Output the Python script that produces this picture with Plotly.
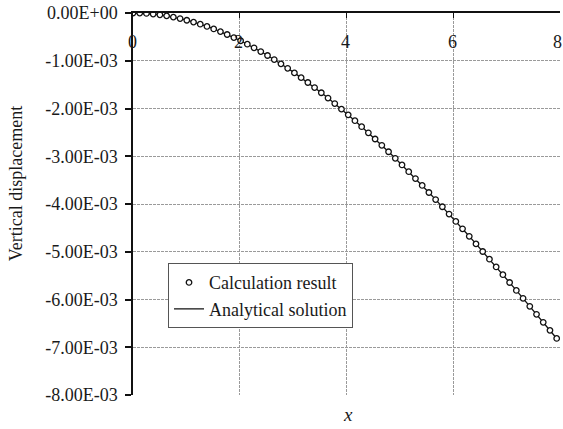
import plotly.graph_objects as go

# ---- data ----
X = [0.000, 0.126, 0.252, 0.378, 0.504, 0.630, 0.756, 0.882, 1.008, 1.134,
     1.260, 1.386, 1.512, 1.638, 1.764, 1.890, 2.016, 2.142, 2.268, 2.394,
     2.520, 2.646, 2.772, 2.898, 3.024, 3.150, 3.276, 3.402, 3.528, 3.654,
     3.780, 3.906, 4.032, 4.158, 4.284, 4.410, 4.536, 4.662, 4.788, 4.914,
     5.040, 5.166, 5.292, 5.418, 5.544, 5.670, 5.796, 5.922, 6.048, 6.174,
     6.300, 6.426, 6.552, 6.678, 6.804, 6.930, 7.056, 7.182, 7.308, 7.434,
     7.560, 7.686, 7.812, 7.938]

CALC = [0.0, -2.4e-6, -9.8e-6, -2.18e-5, -3.86e-5, -6.00e-5, -8.60e-5, -1.165e-4, -1.514e-4, -1.907e-4,
        -2.343e-4, -2.820e-4, -3.340e-4, -3.900e-4, -4.499e-4, -5.139e-4, -5.816e-4, -6.532e-4, -7.285e-4, -8.074e-4,
        -8.899e-4, -9.759e-4, -1.0654e-3, -1.1581e-3, -1.2543e-3, -1.3536e-3, -1.4560e-3, -1.5616e-3, -1.6701e-3, -1.7816e-3,
        -1.8961e-3, -2.0131e-3, -2.1331e-3, -2.2557e-3, -2.3807e-3, -2.5084e-3, -2.6386e-3, -2.7709e-3, -2.9057e-3, -3.0428e-3,
        -3.1818e-3, -3.3231e-3, -3.4665e-3, -3.6115e-3, -3.7587e-3, -3.9077e-3, -4.0581e-3, -4.2105e-3, -4.3645e-3, -4.5197e-3,
        -4.6767e-3, -4.8351e-3, -4.9943e-3, -5.1553e-3, -5.3174e-3, -5.4801e-3, -5.6444e-3, -5.8096e-3, -5.9752e-3, -6.1421e-3,
        -6.3098e-3, -6.4775e-3, -6.6465e-3, -6.8160e-3]

ANALYTICAL = [0.0, -2.4e-6, -9.8e-6, -2.18e-5, -3.86e-5, -6.00e-5, -8.60e-5, -1.165e-4, -1.514e-4, -1.907e-4,
              -2.343e-4, -2.820e-4, -3.340e-4, -3.900e-4, -4.499e-4, -5.139e-4, -5.816e-4, -6.532e-4, -7.285e-4, -8.074e-4,
              -8.899e-4, -9.759e-4, -1.0654e-3, -1.1581e-3, -1.2543e-3, -1.3536e-3, -1.4560e-3, -1.5616e-3, -1.6701e-3, -1.7816e-3,
              -1.8961e-3, -2.0131e-3, -2.1331e-3, -2.2557e-3, -2.3807e-3, -2.5084e-3, -2.6386e-3, -2.7709e-3, -2.9057e-3, -3.0428e-3,
              -3.1818e-3, -3.3231e-3, -3.4665e-3, -3.6115e-3, -3.7587e-3, -3.9077e-3, -4.0581e-3, -4.2105e-3, -4.3645e-3, -4.5197e-3,
              -4.6767e-3, -4.8351e-3, -4.9943e-3, -5.1553e-3, -5.3174e-3, -5.4801e-3, -5.6444e-3, -5.8096e-3, -5.9752e-3, -6.1421e-3,
              -6.3098e-3, -6.4775e-3, -6.6465e-3, -6.8160e-3]

X_TICKS = [0, 2, 4, 6, 8]
X_TICKTEXT = ["0", "2", "4", "6", "8"]
Y_TICKS = [0, -0.001, -0.002, -0.003, -0.004, -0.005, -0.006, -0.007, -0.008]
Y_TICKTEXT = ["0.00E+00", "-1.00E-03", "-2.00E-03", "-3.00E-03", "-4.00E-03",
              "-5.00E-03", "-6.00E-03", "-7.00E-03", "-8.00E-03"]

FONT = "Liberation Serif, Times New Roman, serif"
TXT = "#1a1a1a"
GRID = "#9a9a9a"

fig = go.Figure()
fig.add_trace(go.Scatter(
    x=X, y=ANALYTICAL, mode="lines", name="Analytical solution",
    line=dict(color="#111111", width=1.3), legendrank=2))
fig.add_trace(go.Scatter(
    x=X, y=CALC, mode="markers", name="Calculation result",
    marker=dict(symbol="circle", size=5.5, color="white",
                line=dict(color="#111111", width=1.3)), legendrank=1))

# x tick labels sit inside the plot just under the top axis line
x_label_ann = []
for i, (v, t) in enumerate(zip(X_TICKS, X_TICKTEXT)):
    last = i == len(X_TICKS) - 1
    x_label_ann.append(dict(
        text=t, xref="x", yref="paper", x=v, y=1, yshift=-29,
        xshift=(-3 if last else -1),
        xanchor="center", yanchor="middle", showarrow=False,
        font=dict(family=FONT, size=18, color=TXT)))

fig.update_layout(
    width=563, height=429,
    margin=dict(l=133, r=3, t=13, b=34),
    paper_bgcolor="white", plot_bgcolor="white",
    font=dict(family=FONT, size=18, color=TXT),
    showlegend=True,
    legend=dict(x=0.082, y=0.345, xanchor="left", yanchor="top",
                bgcolor="white", bordercolor="#555555", borderwidth=1,
                font=dict(family=FONT, size=18, color=TXT),
                itemwidth=30, tracegroupgap=0),
    xaxis=dict(range=[0, 8], side="top", tickvals=X_TICKS,
               showticklabels=False,
               ticks="inside", ticklen=5, tickcolor="#111111", tickwidth=1,
               showline=True, linecolor="#111111", linewidth=1.5,
               showgrid=True, gridcolor=GRID, gridwidth=1, griddash="3px,1px",
               zeroline=False),
    yaxis=dict(range=[-0.008, 0], tickvals=Y_TICKS, ticktext=Y_TICKTEXT,
               ticks="outside", ticklen=6, tickcolor="#111111", tickwidth=1.5,
               ticklabelstandoff=4, ticklabeloverflow="allow",
               showline=True, linecolor="#111111", linewidth=1.5,
               showgrid=True, gridcolor=GRID, gridwidth=1, griddash="3px,1px",
               zeroline=False, tickfont=dict(family=FONT, size=18, color=TXT)),
    annotations=x_label_ann + [
        dict(text="<i>x</i>", xref="paper", yref="paper", x=0.503, y=-0.052,
             xanchor="center", yanchor="middle", showarrow=False,
             font=dict(family=FONT, size=19, color=TXT)),
        dict(text="Vertical displacement", xref="paper", yref="paper",
             x=-0.272, y=0.554, xanchor="center", yanchor="middle",
             textangle=-90, showarrow=False,
             font=dict(family=FONT, size=18, color=TXT)),
    ],
)

fig.write_html("out.html")
